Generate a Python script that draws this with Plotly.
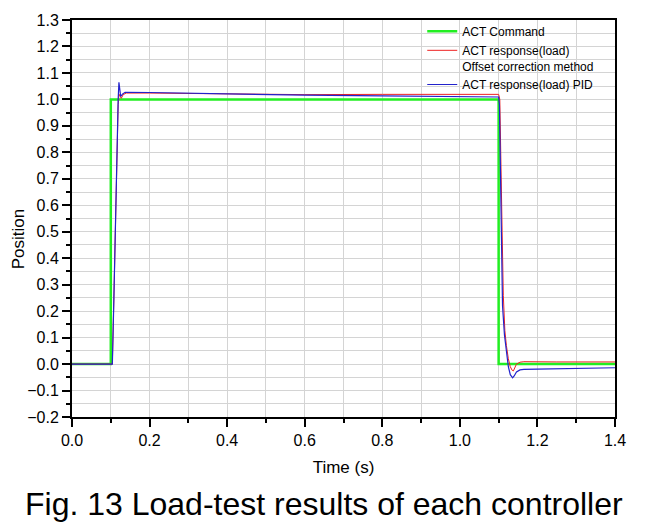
import plotly.graph_objects as go

# ---- data ----
cmd_t = [0.0, 0.1, 0.1, 1.1, 1.1, 1.4]
cmd_y = [0.0, 0.0, 1.0, 1.0, 0.0, 0.0]

red_t = [0.0, 0.104, 0.108, 0.112, 0.116, 0.119, 0.121, 0.124, 0.127, 0.132, 0.14,
         0.2, 0.4, 0.6, 0.8, 1.0, 1.1, 1.103, 1.106, 1.109, 1.112, 1.116, 1.12,
         1.125, 1.13, 1.135, 1.138, 1.142, 1.146, 1.155, 1.165, 1.25, 1.4]
red_y = [0.0, 0.0, 0.25, 0.55, 0.82, 0.98, 1.02, 1.01, 1.004, 1.018, 1.024,
         1.024, 1.02, 1.018, 1.019, 1.019, 1.019, 1.0, 0.8, 0.5, 0.26, 0.127, 0.07,
         0.02, -0.01, -0.024, -0.026, -0.015, 0.0, 0.007, 0.009, 0.008, 0.008]

blue_t = [0.0, 0.104, 0.108, 0.112, 0.116, 0.119, 0.121, 0.1235, 0.1255, 0.13, 0.137,
          0.2, 0.4, 0.6, 0.8, 1.0, 1.1, 1.102, 1.105, 1.108, 1.11, 1.115, 1.12,
          1.125, 1.13, 1.136, 1.14, 1.146, 1.155, 1.165, 1.2, 1.3, 1.4]
blue_y = [0.0, 0.0, 0.25, 0.55, 0.82, 1.0, 1.065, 1.03, 1.011, 1.02, 1.027,
          1.026, 1.02, 1.016, 1.013, 1.01, 1.009, 0.98, 0.7, 0.35, 0.22, 0.11, 0.04,
          -0.01, -0.04, -0.052, -0.045, -0.03, -0.022, -0.02, -0.019, -0.017, -0.014]

names = ["ACT Command", "ACT response(load)<br>Offset correction method", "ACT response(load) PID"]
x_title = "Time (s)"
y_title = "Position"
caption = "Fig. 13 Load-test results of each controller"

FONT = "Liberation Sans, Arial, sans-serif"

fig = go.Figure()
fig.add_trace(go.Scatter(x=cmd_t, y=cmd_y, mode="lines", name=names[0],
                         line=dict(color="#22ee22", width=2.5)))
fig.add_trace(go.Scatter(x=red_t, y=red_y, mode="lines", name=names[1],
                         line=dict(color="#ee2222", width=1)))
fig.add_trace(go.Scatter(x=blue_t, y=blue_y, mode="lines", name=names[2],
                         line=dict(color="#2222cc", width=1.2)))

axis_font = dict(family=FONT, size=16, color="black")
fig.update_xaxes(range=[0, 1.4], dtick=0.2, tick0=0, tickformat=".1f", automargin=False,
                 showline=True, linecolor="black", linewidth=2, mirror=True,
                 ticks="outside", ticklen=8, tickwidth=1.5, tickcolor="black",
                 showgrid=True, gridcolor="#d4d4d4", gridwidth=1, zeroline=False,
                 minor=dict(dtick=0.1, ticks="outside", ticklen=4, tickcolor="black",
                            showgrid=True, gridcolor="#d4d4d4", gridwidth=1),
                 tickfont=axis_font,
                 title=dict(text=x_title, font=dict(family=FONT, size=17, color="black"), standoff=13))
fig.update_yaxes(range=[-0.2, 1.3], dtick=0.1, tick0=0, tickformat=".1f", automargin=False,
                 showline=True, linecolor="black", linewidth=2, mirror=True,
                 ticks="outside", ticklen=8, tickwidth=1.5, tickcolor="black",
                 showgrid=True, gridcolor="#d4d4d4", gridwidth=1, zeroline=False,
                 minor=dict(dtick=0.05, ticks="outside", ticklen=4, tickcolor="black",
                            showgrid=True, gridcolor="#d4d4d4", gridwidth=1),
                 tickfont=axis_font)

fig.update_layout(
    width=645, height=531,
    margin=dict(l=64, r=38, t=9, b=122),
    plot_bgcolor="white", paper_bgcolor="white",
    showlegend=True,
    legend=dict(x=0.645, y=1.0075, xanchor="left", yanchor="top",
                bgcolor="rgba(0,0,0,0)", borderwidth=0, valign="top",
                font=dict(family=FONT, size=12, color="black"),
                tracegroupgap=0, itemwidth=30),
    annotations=[
        dict(text=y_title, xref="paper", yref="paper", x=-0.0994, y=0.4475,
             xanchor="center", yanchor="middle", textangle=-90, showarrow=False,
             font=dict(family=FONT, size=17, color="black")),
        dict(text=caption, xref="paper", yref="paper", x=0.4632, y=-0.22,
             xanchor="center", yanchor="middle", showarrow=False,
             font=dict(family="Liberation Sans Narrow, Arial Narrow, Liberation Sans, sans-serif",
                       size=32, color="black"))],
)

fig.write_html("out.html")
